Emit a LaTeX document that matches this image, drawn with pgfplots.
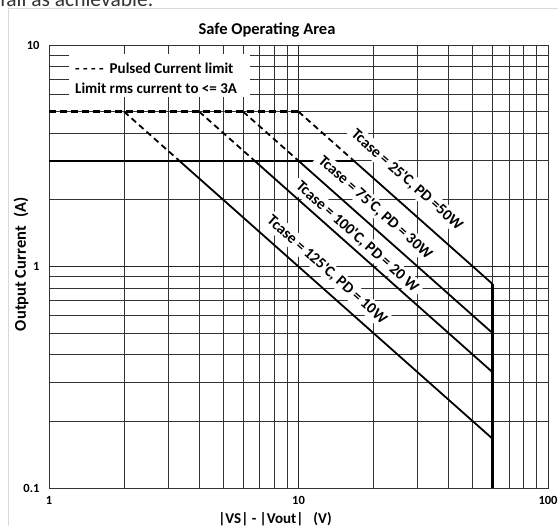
\documentclass[border=0pt]{standalone}
\usepackage{fontspec}
\setmainfont{Carlito}
\usepackage{pgfplots}
\pgfplotsset{compat=1.18}
\begin{document}
\begin{tikzpicture}[x=1pt,y=1pt]
% stray text of the page above, clipped
\begin{scope}
  \clip (0,518) rectangle (558,526);
  \node[anchor=base west, inner sep=0pt, text=black!80, font=\fontsize{21.5}{24}\selectfont] at (0,519) {fall as achievable.};
\end{scope}
\draw[black!15, line width=0.8pt] (8,0) -- (8,518) -- (558,518);
\begin{axis}[
  at={(49pt,38pt)}, anchor=south west,
  scale only axis, width=499pt, height=443pt,
  xmode=log, ymode=log,
  xmin=1, xmax=100, ymin=0.1, ymax=10,
  xtick={1,10,100}, xticklabels={1,10,100},
  ytick={0.1,1,10}, yticklabels={0.1,1,10},
  minor xtick={2,3,4,5,6,7,8,9,20,30,40,50,60,70,80,90},
  minor ytick={0.2,0.3,0.4,0.5,0.6,0.7,0.8,0.9,2,3,4,5,6,7,8,9},
  grid=both,
  major grid style={black!85, line width=0.8pt},
  minor grid style={black!80, line width=0.8pt},
  axis line style={black!80, line width=0.8pt},
  major tick length=0pt, minor tick length=0pt,
  tick label style={font=\fontsize{12.5}{14}\selectfont\bfseries},
  xticklabel style={yshift=-5pt},
  yticklabel style={xshift=-6pt},
]
% pulsed current limit and rms limit
\addplot[black, line width=2.4pt, dash pattern=on 7pt off 4pt] coordinates {(1,5) (10,5)};
\addplot[black, line width=2.6pt] coordinates {(1,3) (16.67,3)};
% PD = 50 W
\addplot[black, line width=1.8pt, dash pattern=on 6pt off 4pt] coordinates {(10,5) (16.67,3)};
\addplot[black, line width=1.8pt] coordinates {(16.67,3) (60,0.833)};
% PD = 30 W
\addplot[black, line width=1.8pt, dash pattern=on 6pt off 4pt] coordinates {(6,5) (10,3)};
\addplot[black, line width=1.8pt] coordinates {(10,3) (60,0.5)};
% PD = 20 W
\addplot[black, line width=1.8pt, dash pattern=on 6pt off 4pt] coordinates {(4,5) (6.67,3)};
\addplot[black, line width=1.8pt] coordinates {(6.67,3) (60,0.333)};
% PD = 10 W
\addplot[black, line width=1.8pt, dash pattern=on 6pt off 4pt] coordinates {(2,5) (3.33,3)};
\addplot[black, line width=1.8pt] coordinates {(3.33,3) (60,0.1667)};
% voltage limit
\addplot[black, line width=2.6pt] coordinates {(60,0.833) (60,0.1)};

\tikzset{lbl/.style={rotate=-41.6, fill=white, inner xsep=4pt, inner ysep=2.5pt, font=\fontsize{15.5}{17}\selectfont\bfseries}}
\node[lbl] at (axis cs:27.2,2.46) {Tcase = 25\textquotesingle C, PD =50W};
\node[lbl] at (axis cs:20.3,1.84) {Tcase = 75\textquotesingle C, PD = 30W};
\node[lbl] at (axis cs:17.2,1.36) {Tcase = 100\textquotesingle C, PD = 20 W};
\node[lbl] at (axis cs:13.0,0.964) {Tcase = 125\textquotesingle C, PD = 10W};
\end{axis}
% legend text box
\fill[white] (69,429) rectangle (250,472);
\node[anchor=west, inner sep=0pt, font=\fontsize{15}{17}\selectfont\bfseries] at (75,458) {- - - -\hspace{6pt}Pulsed Current limit};
\node[anchor=west, inner sep=0pt, font=\fontsize{15}{17}\selectfont\bfseries] at (75,438) {Limit rms current to <= 3A};
% titles
\node[font=\fontsize{16.5}{18}\selectfont\bfseries] at (267,496) {Safe Operating Area};
\node[font=\fontsize{15}{17}\selectfont\bfseries] at (275,7) {|VS| - |Vout|\hspace{10pt}(V)};
\node[rotate=90, font=\fontsize{16.5}{18}\selectfont\bfseries] at (21,262) {Output Current\hspace{9pt}(A)};
\pgfresetboundingbox
\useasboundingbox (0,0) rectangle (558,526);
\end{tikzpicture}
\end{document}
